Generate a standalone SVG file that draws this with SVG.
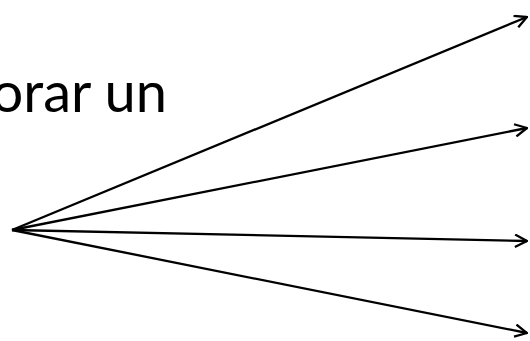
<svg xmlns="http://www.w3.org/2000/svg" width="530" height="341" viewBox="0 0 530 341">
<style>
.t{font-family:"Lato","Open Sans",sans-serif;font-size:56px;fill:#000}
.c{stroke:#000;stroke-width:2.3;fill:none}
</style>
<defs>
<marker id="a" viewBox="0 0 14 14" refX="13" refY="7" markerWidth="14" markerHeight="14" markerUnits="userSpaceOnUse" orient="auto">
<path d="M1,0.8 L13,7 L1,13.2" fill="none" stroke="#000" stroke-width="2.3"/>
</marker>
</defs>
<rect width="530" height="341" fill="#fff"/>
<g id="label"><text class="t" x="167" y="112" text-anchor="end">orar un</text></g>
<g id="connectors">
<line class="c" x1="12" y1="230" x2="527" y2="17" marker-end="url(#a)"/>
<line class="c" x1="12" y1="230" x2="527" y2="128" marker-end="url(#a)"/>
<line class="c" x1="12" y1="230" x2="527" y2="241" marker-end="url(#a)"/>
<line class="c" x1="12" y1="230" x2="527" y2="333" marker-end="url(#a)"/>
</g>
</svg>
